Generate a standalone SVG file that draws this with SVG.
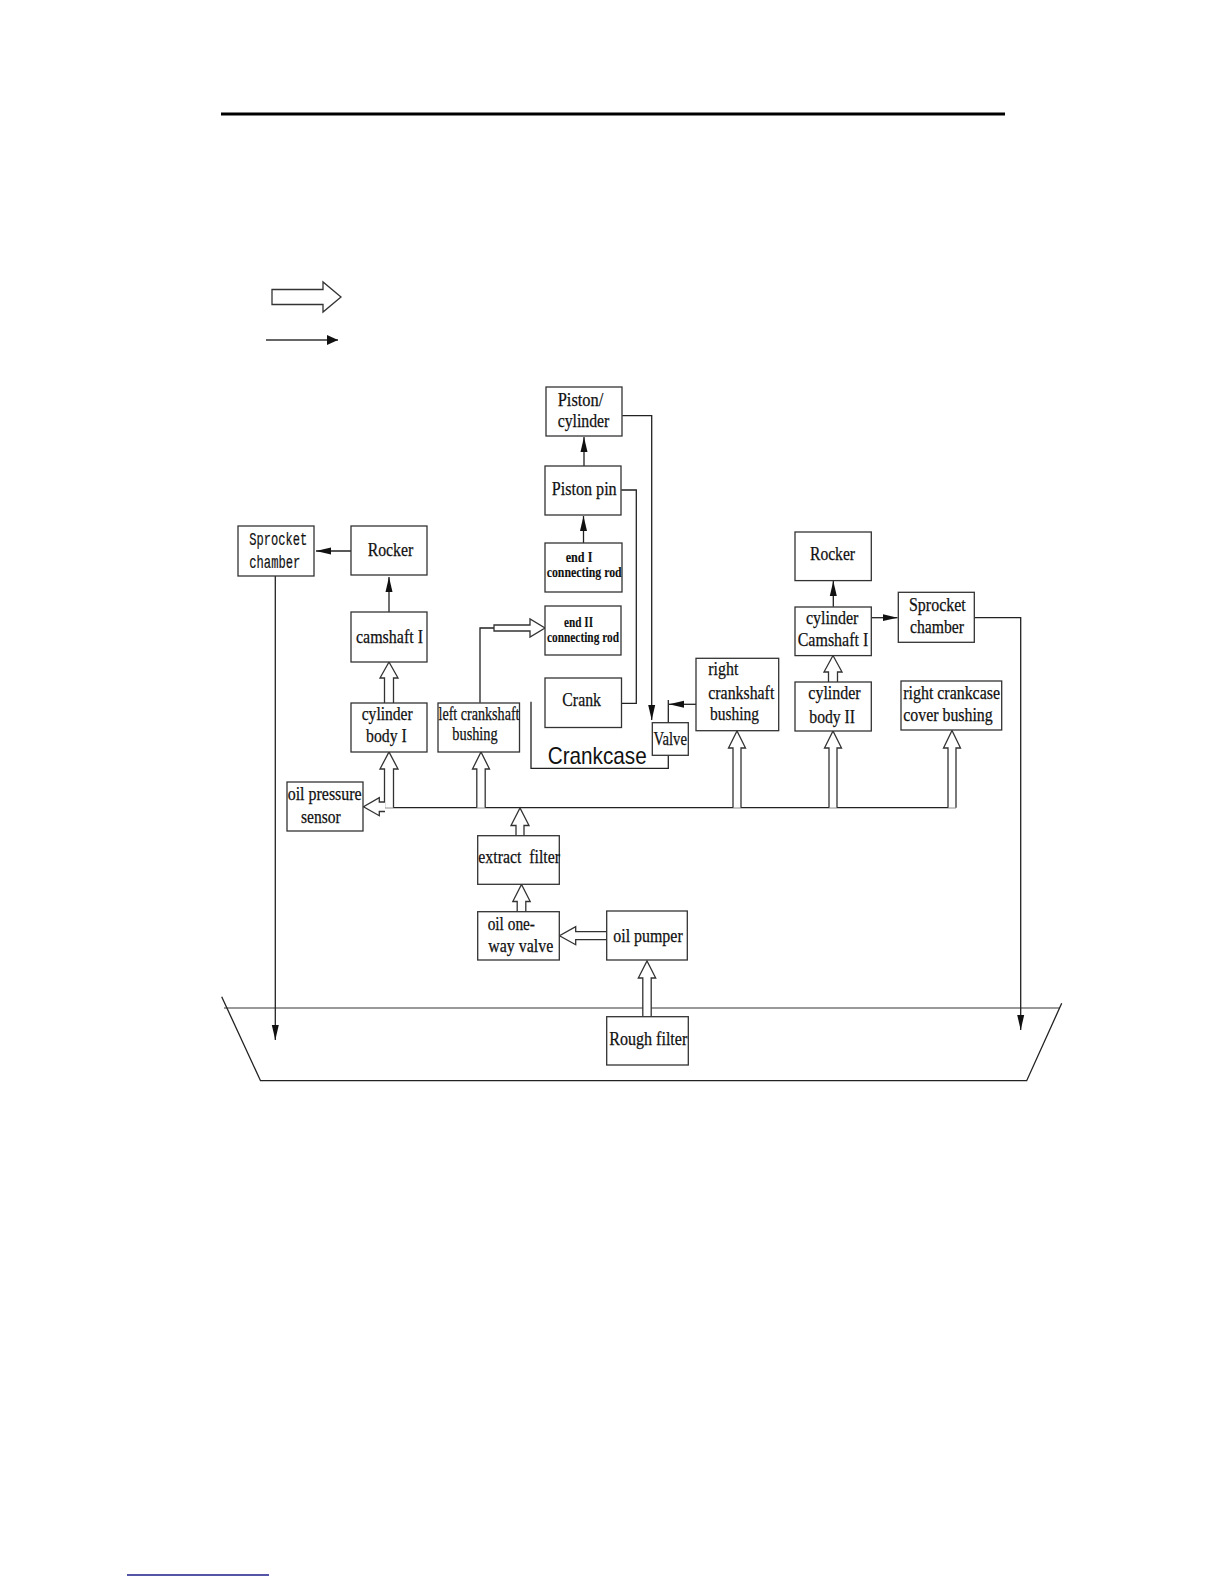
<svg xmlns="http://www.w3.org/2000/svg" width="1224" height="1584" viewBox="0 0 1224 1584">
<style>
.box{fill:#fff;stroke:#333;stroke-width:1.3}
.t{font-family:"Liberation Serif","Times New Roman",serif;font-size:19px;fill:#111;stroke:#111;stroke-width:0.25}
.b{font-weight:bold;font-size:14px;stroke-width:0.1}
.m{font-family:"Liberation Mono","Courier New",monospace;font-size:18px;fill:#111;stroke:#111;stroke-width:0.2}
.ln{fill:none;stroke:#222;stroke-width:1.3}
.ar{fill:none;stroke:#222;stroke-width:1.3;marker-end:url(#ah)}
.ho{fill:#fff;stroke:#333;stroke-width:1.3}
</style>
<defs>
<marker id="ah" markerUnits="userSpaceOnUse" markerWidth="16" markerHeight="8" refX="15" refY="4" orient="auto"><path d="M0,0.5 L15,4 L0,7.5 z" fill="#111"/></marker>
<marker id="ahL" markerUnits="userSpaceOnUse" markerWidth="12" markerHeight="11" refX="11" refY="5.5" orient="auto"><path d="M0,0.5 L11,5.5 L0,10.5 z" fill="#111"/></marker>
</defs>
<rect width="1224" height="1584" fill="#fff"/>
<path d="M221,114 H1005" stroke="#000" stroke-width="3"/>
<g id="legend">
<path class="ho" d="M272,289.5 H323 V282 L341,297 L323,312 V304.5 H272 Z"/>
<path d="M266,340 H338" stroke="#333" stroke-width="1.5" marker-end="url(#ahL)"/>
</g>
<g id="tank">
<path d="M224,1008 H1060" stroke="#777" stroke-width="1.5" fill="none"/>
<path class="ln" d="M221.7,996.7 L260.5,1080.7 H1026.7 L1061.7,1003.3"/>
</g>
<g id="crankcase">
<path class="ln" d="M531,701.7 V768.3 H668.3 V700"/>
<text x="547.7" y="764" font-family="Liberation Sans, Arial, sans-serif" font-size="24" fill="#111" textLength="99" lengthAdjust="spacingAndGlyphs">Crankcase</text>
</g>
<g id="connectors">
<path class="ln" d="M384.5,807.7 H956"/>
<path class="ar" d="M351,551 H316"/>
<path class="ar" d="M389,612 V577"/>
<path class="ar" d="M584,466 V437"/>
<path class="ar" d="M583.5,543 V516"/>
<path class="ar" d="M833.3,606.7 V581"/>
<path class="ar" d="M871.3,617.7 H897.5"/>
<path class="ar" d="M622.3,415.7 H651.7 V720"/>
<path class="ar" d="M696,704.3 H669"/>
<path class="ln" d="M621.3,490 H636.3 V703.3 H621.7"/>
<path class="ar" d="M275.3,576 V1040"/>
<path class="ar" d="M974.3,617.7 H1020.7 V1030"/>
<path class="ln" d="M480,702.7 V628 H494"/>
<path class="ho" d="M494,625 H530 V619 L545,628 L530,637 V631 H494 Z"/>
<path class="ho" d="M384.5,703 V678 H380 L389,662 L398,678 H393.5 V703"/>
<path class="ho" d="M828.5,682 V672 H824 L833,655.5 L842,672 H837.5 V682"/>
<path class="ho" d="M384.5,807.7 V769 H380 L389,752 L398,769 H393.5 V807.7"/>
<path class="ho" d="M476.8,807.7 V769 H472.5 L481,752 L489.5,769 H485.2 V807.7"/>
<path class="ho" d="M733,807.7 V748 H728.5 L737,731 L745.5,748 H741 V807.7"/>
<path class="ho" d="M829,807.7 V748 H824.5 L833,731 L841.5,748 H837 V807.7"/>
<path class="ho" d="M948,807.7 V748 H943.5 L952,730.5 L960.5,748 H956 V807.7"/>
<path class="ho" d="M516,835.7 V825.5 H511 L520,808 L529,825.5 H524 V835.7"/>
<path class="ho" d="M517.2,911.7 V901.5 H512.8 L521.5,884.5 L530.2,901.5 H525.8 V911.7"/>
<path class="ho" d="M642.8,1016.7 V978 H638.3 L647,961 L655.7,978 H651.2 V1016.7"/>
<path class="ho" d="M606.7,931.7 H575.7 V926.7 L559.5,935.7 L575.7,944.7 V939.7 H606.7"/>
<path class="ho" d="M385,802 H379.3 V797.7 L363.5,806.7 L379.3,815.7 V811.5 H385"/>
</g>
<g id="sprocket-left"><rect class="box" x="238" y="526" width="76" height="50"/>
<text class="m" x="249.3" y="545" textLength="58" lengthAdjust="spacingAndGlyphs">Sprocket</text>
<text class="m" x="249.3" y="568" textLength="51" lengthAdjust="spacingAndGlyphs">chamber</text></g>
<g id="rocker-left"><rect class="box" x="351" y="526" width="76" height="49"/>
<text class="t" x="367.7" y="556" textLength="45.6" lengthAdjust="spacingAndGlyphs">Rocker</text></g>
<g id="camshaft-1"><rect class="box" x="351" y="612" width="76" height="50"/>
<text class="t" x="356" y="642.7" textLength="67" lengthAdjust="spacingAndGlyphs">camshaft I</text></g>
<g id="cylinder-body-1"><rect class="box" x="351" y="703" width="76" height="49"/>
<text class="t" x="361.7" y="720" textLength="51" lengthAdjust="spacingAndGlyphs">cylinder</text>
<text class="t" x="366" y="741.7" textLength="40.7" lengthAdjust="spacingAndGlyphs">body I</text></g>
<g id="left-crankshaft-bushing"><rect class="box" x="438" y="703" width="81.5" height="49"/>
<text class="t" x="438.5" y="720" textLength="81" lengthAdjust="spacingAndGlyphs">left crankshaft</text>
<text class="t" x="452.3" y="740" textLength="45.4" lengthAdjust="spacingAndGlyphs">bushing</text></g>
<g id="oil-pressure-sensor"><rect class="box" x="287" y="782" width="76" height="49"/>
<text class="t" x="287.7" y="800" textLength="74" lengthAdjust="spacingAndGlyphs">oil pressure</text>
<text class="t" x="301" y="822.7" textLength="39.7" lengthAdjust="spacingAndGlyphs">sensor</text></g>
<g id="piston-cylinder"><rect class="box" x="546" y="387" width="76" height="49"/>
<text class="t" x="557.7" y="406" textLength="45.7" lengthAdjust="spacingAndGlyphs">Piston/</text>
<text class="t" x="557.7" y="426.7" textLength="51.7" lengthAdjust="spacingAndGlyphs">cylinder</text></g>
<g id="piston-pin"><rect class="box" x="545" y="466" width="76" height="49"/>
<text class="t" x="551.7" y="495" textLength="65" lengthAdjust="spacingAndGlyphs">Piston pin</text></g>
<g id="end-1-connecting-rod"><rect class="box" x="545" y="543" width="77" height="49"/>
<text class="t b" x="565.7" y="561.7" textLength="26.7" lengthAdjust="spacingAndGlyphs">end I</text>
<text class="t b" x="546.7" y="577" textLength="75" lengthAdjust="spacingAndGlyphs">connecting rod</text></g>
<g id="end-2-connecting-rod"><rect class="box" x="545" y="606" width="76" height="49"/>
<text class="t b" x="564" y="626.7" textLength="29" lengthAdjust="spacingAndGlyphs">end II</text>
<text class="t b" x="547" y="641.7" textLength="72" lengthAdjust="spacingAndGlyphs">connecting rod</text></g>
<g id="crank"><rect class="box" x="545" y="678" width="76.5" height="49.5"/>
<text class="t" x="562.3" y="706" textLength="38.7" lengthAdjust="spacingAndGlyphs">Crank</text></g>
<g id="valve"><rect class="box" x="652.3" y="722.7" width="36" height="32.6"/>
<text class="t" x="653.5" y="745" font-size="16" textLength="33.5" lengthAdjust="spacingAndGlyphs">Valve</text></g>
<g id="right-crankshaft-bushing"><rect class="box" x="696" y="658.3" width="82.7" height="72.4"/>
<text class="t" x="708.3" y="675" textLength="30" lengthAdjust="spacingAndGlyphs">right</text>
<text class="t" x="708.3" y="699" textLength="66" lengthAdjust="spacingAndGlyphs">crankshaft</text>
<text class="t" x="710" y="720" textLength="49" lengthAdjust="spacingAndGlyphs">bushing</text></g>
<g id="cylinder-body-2"><rect class="box" x="795" y="682" width="76.3" height="49"/>
<text class="t" x="808.3" y="699" textLength="52.4" lengthAdjust="spacingAndGlyphs">cylinder</text>
<text class="t" x="809.3" y="723" textLength="45.7" lengthAdjust="spacingAndGlyphs">body II</text></g>
<g id="right-crankcase-cover-bushing"><rect class="box" x="901" y="681" width="100.7" height="49"/>
<text class="t" x="903.3" y="699" textLength="96.7" lengthAdjust="spacingAndGlyphs">right crankcase</text>
<text class="t" x="903.3" y="721" textLength="89.4" lengthAdjust="spacingAndGlyphs">cover bushing</text></g>
<g id="rocker-right"><rect class="box" x="795" y="532" width="76.3" height="48.6"/>
<text class="t" x="810" y="560" textLength="45" lengthAdjust="spacingAndGlyphs">Rocker</text></g>
<g id="cylinder-camshaft-1"><rect class="box" x="795" y="607" width="76.3" height="48.6"/>
<text class="t" x="806" y="623.5" textLength="52.3" lengthAdjust="spacingAndGlyphs">cylinder</text>
<text class="t" x="797.7" y="646" textLength="70.6" lengthAdjust="spacingAndGlyphs">Camshaft I</text></g>
<g id="sprocket-right"><rect class="box" x="898.3" y="592.3" width="76" height="50"/>
<text class="t" x="909" y="611" textLength="56.7" lengthAdjust="spacingAndGlyphs">Sprocket</text>
<text class="t" x="910" y="633" textLength="54" lengthAdjust="spacingAndGlyphs">chamber</text></g>
<g id="extract-filter"><rect class="box" x="477.7" y="835.7" width="81.6" height="48.6"/>
<text class="t" x="478.3" y="863" textLength="81.7" lengthAdjust="spacingAndGlyphs" xml:space="preserve">extract  filter</text></g>
<g id="oil-one-way-valve"><rect class="box" x="477.7" y="911.7" width="81.6" height="48.3"/>
<text class="t" x="487.7" y="930" textLength="47.3" lengthAdjust="spacingAndGlyphs">oil one-</text>
<text class="t" x="488.3" y="951.5" textLength="65" lengthAdjust="spacingAndGlyphs">way valve</text></g>
<g id="oil-pumper"><rect class="box" x="606.7" y="911" width="80.6" height="49"/>
<text class="t" x="613.3" y="941.7" textLength="69.4" lengthAdjust="spacingAndGlyphs">oil pumper</text></g>
<g id="rough-filter"><rect class="box" x="606.7" y="1016.7" width="81.6" height="48.3"/>
<text class="t" x="609.3" y="1045" textLength="78" lengthAdjust="spacingAndGlyphs">Rough filter</text></g>
<path d="M127,1575 H269" stroke="#1c1c8a" stroke-width="1.3"/>
</svg>
